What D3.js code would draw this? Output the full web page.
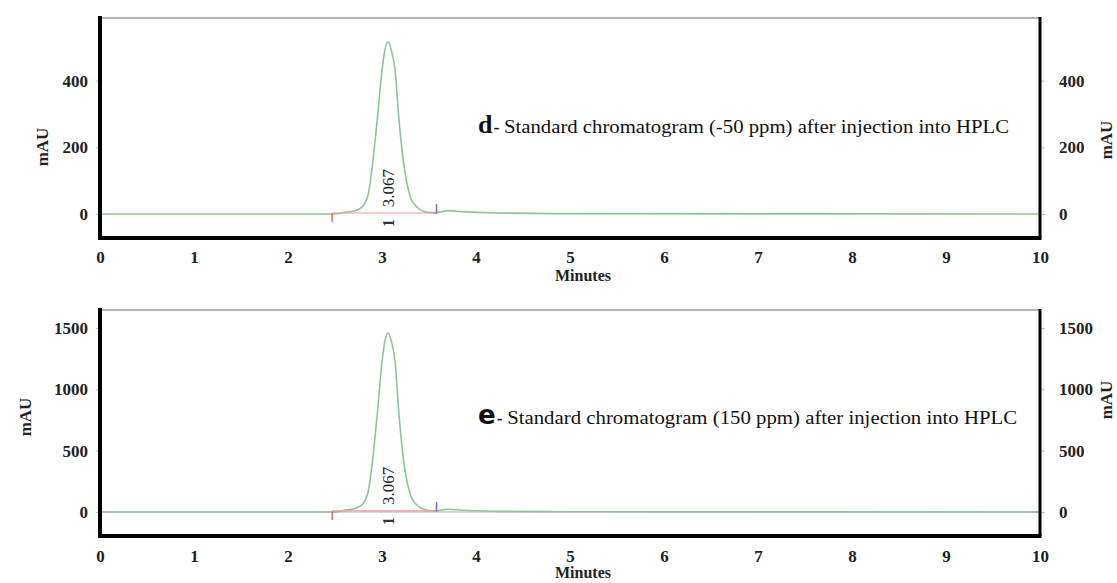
<!DOCTYPE html>
<html>
<head>
<meta charset="utf-8">
<script src="https://cdn.jsdelivr.net/npm/d3@7"></script>
<style>
  body { margin: 0; background: #fff; }
  svg { display: block; }
  text { font-family: "Times New Roman", "Liberation Serif", Times, serif; }
</style>
</head>
<body>
<svg id="chart" width="1117" height="583"></svg>
<script>
// retention time (minutes) of the points
var times = [0, 2.5, 2.6, 2.7, 2.75, 2.8, 2.85, 2.9, 2.95, 3.0, 3.03, 3.067, 3.1, 3.14, 3.18, 3.22, 3.26, 3.31, 3.36, 3.44, 3.52, 3.6, 3.7, 3.85, 4.2, 5, 10];
// d- standard (-50 ppm), mAU
var signalD = [0, 0, 5, 9, 14, 25, 55, 150, 285, 430, 490, 516, 490, 430, 285, 175, 100, 45, 24, 8, 4, 5, 10, 7, 3, 1, 0];
// e- standard (150 ppm), mAU
var signalE = [0, 0, 14, 25, 40, 70, 155, 420, 800, 1220, 1390, 1459, 1390, 1220, 800, 480, 270, 125, 65, 22, 10, 12, 22, 14, 6, 2, 0];

var xTicks = [0, 1, 2, 3, 4, 5, 6, 7, 8, 9, 10];
var yTicksD = [0, 200, 400];
var yTicksE = [0, 500, 1000, 1500];

var peakTime = 3.067;
var peakLabel = "3.067";
var peakNumber = "1";
var baseStart = 2.47, baseEnd = 3.58;

var serif = "'Times New Roman', 'Liberation Serif', Times, serif";

var svg = d3.select("#chart");

function drawPanel(cfg){
  var g = svg.append("g");
  var left = 100, right = 1040;

  var x = d3.scaleLinear().domain([0, 10]).range([left, right]);
  var y = d3.scaleLinear().domain(cfg.yDomain).range([cfg.bottom, cfg.top]);

  // top border (gray)
  g.append("line")
    .attr("x1", left).attr("x2", right)
    .attr("y1", cfg.top).attr("y2", cfg.top)
    .attr("stroke", "#b4b4b4").attr("stroke-width", 2);

  // zero line
  if(cfg.zeroLine){
    g.append("line")
      .attr("x1", left).attr("x2", right)
      .attr("y1", y(0)).attr("y2", y(0))
      .attr("stroke", "#c8c8c8").attr("stroke-width", 1.5);
  }

  // signal trace
  var line = d3.line()
    .x(function(d, i){ return x(times[i]); })
    .y(function(d){ return y(d); })
    .curve(d3.curveMonotoneX);

  g.append("path")
    .datum(cfg.values)
    .attr("d", line)
    .attr("fill", "none")
    .attr("stroke", "#8cc597")
    .attr("stroke-width", 1.6);

  // integration baseline and markers
  g.append("line")
    .attr("x1", x(baseStart)).attr("x2", x(baseEnd))
    .attr("y1", y(0) - 1).attr("y2", y(0) - 1)
    .attr("stroke", "#f29a9a").attr("stroke-width", 1.2);
  g.append("line")
    .attr("x1", x(baseStart)).attr("x2", x(baseStart))
    .attr("y1", y(0) - 1).attr("y2", y(0) + 8)
    .attr("stroke", "#e06a6a").attr("stroke-width", 1.5);
  g.append("line")
    .attr("x1", x(baseEnd)).attr("x2", x(baseEnd))
    .attr("y1", y(0) - 10).attr("y2", y(0))
    .attr("stroke", "#6f72c8").attr("stroke-width", 1.5);

  // peak labels
  g.append("text")
    .attr("transform", "translate(" + (x(peakTime) + 6) + "," + (y(0) - 26) + ") rotate(-90)")
    .attr("text-anchor", "middle")
    .attr("font-size", 17)
    .attr("font-family", serif)
    .attr("fill", "#222")
    .text(peakLabel);
  g.append("text")
    .attr("transform", "translate(" + (x(peakTime) + 6) + "," + (y(0) + 9) + ") rotate(-90)")
    .attr("text-anchor", "middle")
    .attr("font-size", 16)
    .attr("font-weight", "bold")
    .attr("font-family", serif)
    .attr("fill", "#333")
    .text(peakNumber);

  // axes
  var fmt = d3.format("d");
  var gLeft = g.append("g")
    .attr("transform", "translate(" + left + ",0)")
    .call(d3.axisLeft(y).tickValues(cfg.yTicks).tickFormat(fmt).tickSize(4).tickPadding(8));
  var gRight = g.append("g")
    .attr("transform", "translate(" + right + ",0)")
    .call(d3.axisRight(y).tickValues(cfg.yTicks).tickFormat(fmt).tickSize(5).tickPadding(14));
  var gBottom = g.append("g")
    .attr("transform", "translate(0," + cfg.bottom + ")")
    .call(d3.axisBottom(x).tickValues(xTicks).tickSize(0).tickPadding(cfg.xPad).tickFormat(fmt));

  [gLeft, gRight, gBottom].forEach(function(a){
    a.select(".domain").remove();
    a.selectAll(".tick line").attr("stroke", "#bbb");
    a.selectAll(".tick text")
      .attr("font-family", serif)
      .attr("font-size", 17)
      .attr("font-weight", "bold")
      .attr("fill", "#222");
  });

  // frame lines
  g.append("line")
    .attr("x1", right).attr("x2", right)
    .attr("y1", cfg.top - 1).attr("y2", cfg.bottom)
    .attr("stroke", "#000").attr("stroke-width", 3);
  g.append("line")
    .attr("x1", left).attr("x2", left)
    .attr("y1", cfg.top - 2).attr("y2", cfg.bottom + 2)
    .attr("stroke", "#000").attr("stroke-width", 4);
  g.append("line")
    .attr("x1", left - 2).attr("x2", right + 1.5)
    .attr("y1", cfg.bottom).attr("y2", cfg.bottom)
    .attr("stroke", "#000").attr("stroke-width", 4);

  // axis titles
  g.append("text")
    .attr("transform", "translate(" + cfg.leftTitleX + "," + cfg.leftTitleY + ") rotate(-90)")
    .attr("text-anchor", "middle")
    .attr("font-family", serif)
    .attr("font-size", 17).attr("font-weight", "bold").attr("fill", "#222")
    .text("mAU");
  g.append("text")
    .attr("transform", "translate(" + 1112 + "," + cfg.rightTitleY + ") rotate(-90)")
    .attr("text-anchor", "middle")
    .attr("font-family", serif)
    .attr("font-size", 17).attr("font-weight", "bold").attr("fill", "#222")
    .text("mAU");
  g.append("text")
    .attr("x", 583).attr("y", cfg.minutesY)
    .attr("text-anchor", "middle")
    .attr("font-family", serif)
    .attr("font-size", 16).attr("font-weight", "bold").attr("fill", "#222")
    .text("Minutes");

  // caption
  var cap = g.append("text")
    .attr("x", 478).attr("y", cfg.captionY)
    .attr("font-family", serif)
    .attr("fill", "#111");
  cap.append("tspan")
    .attr("font-size", 26).attr("font-weight", "bold")
    .attr("font-family", cfg.letterFont)
    .text(cfg.letter);
  cap.append("tspan")
    .attr("font-size", 18)
    .attr("dx", 1)
    .text("- ");
  cap.append("tspan")
    .attr("font-size", 18)
    .attr("textLength", cfg.captionLen)
    .attr("lengthAdjust", "spacingAndGlyphs")
    .text(cfg.caption);
}

drawPanel({
  values: signalD, yDomain: [-72, 588], yTicks: yTicksD,
  top: 18, bottom: 238, xPad: 13, zeroLine: false,
  leftTitleX: 48, leftTitleY: 147, rightTitleY: 140, minutesY: 281,
  captionY: 133, letter: "d", letterFont: serif,
  caption: "Standard chromatogram (-50 ppm) after injection into HPLC", captionLen: 505
});

drawPanel({
  values: signalE, yDomain: [-196, 1646], yTicks: yTicksE,
  top: 310, bottom: 536, xPad: 14, zeroLine: true,
  leftTitleX: 31, leftTitleY: 417, rightTitleY: 400, minutesY: 578,
  captionY: 424, letter: "e", letterFont: "'DejaVu Sans', Arial, sans-serif",
  caption: "Standard chromatogram (150 ppm) after injection into HPLC", captionLen: 510
});
</script>
</body>
</html>
